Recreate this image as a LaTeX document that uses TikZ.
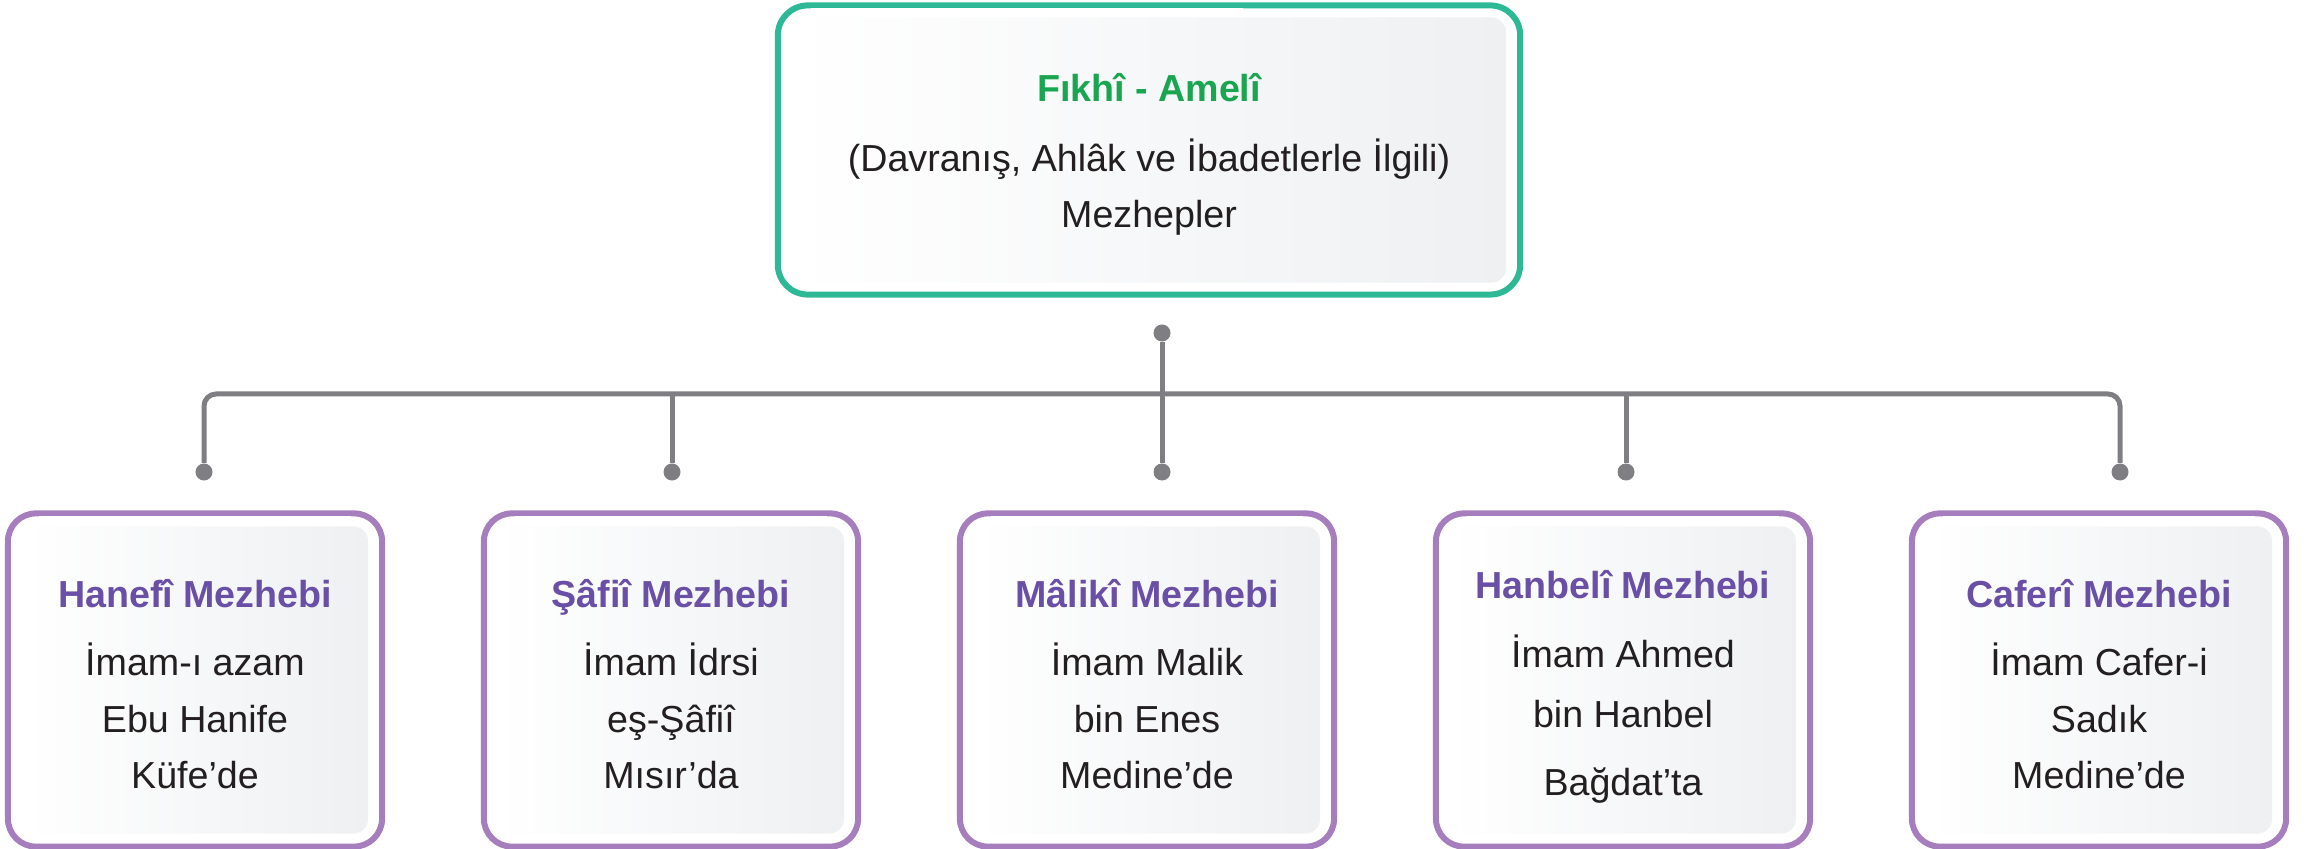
\documentclass[tikz,border=0pt]{standalone}
\usepackage{fontspec}
\setmainfont{Liberation Sans}
\usetikzlibrary{positioning}

\definecolor{frameGreen}{HTML}{2EB996}
\definecolor{titleGreen}{HTML}{1AA651}
\definecolor{framePurple}{HTML}{A67DBD}
\definecolor{titlePurple}{HTML}{6A4FA6}
\definecolor{linkGray}{HTML}{7F7F83}
\definecolor{panelGray}{HTML}{EEF0F2}
\definecolor{ink}{HTML}{231F20}

\tikzset{
  topbox/.style={draw=frameGreen, line width=0.06cm, rounded corners=0.3cm, fill=white,
    minimum width=7.42cm, minimum height=2.89cm, inner sep=0pt},
  mezbox/.style={draw=framePurple, line width=0.06cm, rounded corners=0.28cm, fill=white,
    minimum width=3.74cm, minimum height=3.33cm, inner sep=0pt},
  panel/.style={rounded corners=0.15cm, left color=white, right color=panelGray, inner sep=0pt},
  shine/.style={left color=white, middle color=black!15, right color=white},
  dot/.style={circle, fill=linkGray, inner sep=0pt, minimum size=0.17cm},
  link/.style={draw=linkGray, line width=0.05cm, rounded corners=0.12cm},
  head/.style={anchor=base, inner sep=0pt, font=\bfseries\fontsize{10.7}{13}\selectfont},
  body/.style={anchor=base, inner sep=0pt, text=ink, font=\fontsize{10.7}{13}\selectfont},
}

\begin{document}
\begin{tikzpicture}[x=0.01cm, y=-0.01cm]
			%%%%% START %%%%%
			\useasboundingbox (0,0) rectangle (2318,849);
			
			% top box
			\node[topbox] (amel) at (1149,150) {};
			\node[panel, minimum width=7.14cm, minimum height=2.65cm] (amelpanel) at (amel) {};
			\shade[shine] ([shift={(36,6)}]amel.north west) rectangle ([shift={(-280,13)}]amel.north east);
			
			\node[head, text=titleGreen] (fikhi) at (1149,102) {Fıkhî - Amelî};
			\node[body] (davranis) at (1149,172) {(Davranış, Ahlâk ve İbadetlerle İlgili)};
			\node[body] (mezhepler) at (1149,228) {Mezhepler};
			
			% mezhep boxes
			\foreach \x/\n in {195/hanefi, 671/safii, 1147/maliki, 1623/hanbeli, 2099/caferi}{
				\node[mezbox] (\n) at (\x,680) {};
				\node[panel, minimum width=3.46cm, minimum height=3.07cm] (\n panel) at (\n) {};
				\shade[shine] ([shift={(34,6)}]\n.north west) rectangle ([shift={(-34,13)}]\n.north east);
			}
			
			\node[head, text=titlePurple] (hanefitext) at (195,607) {Hanefî Mezhebi};
			\node[body] at (195,675) {İmam-ı azam};
			\node[body] at (195,732) {Ebu Hanife};
			\node[body] at (195,788) {Küfe’de};
			
			\node[head, text=titlePurple] (safiitext) at (671,607) {Şâfiî Mezhebi};
			\node[body] at (671,675) {İmam İdrsi};
			\node[body] at (671,732) {eş-Şâfiî};
			\node[body] at (671,788) {Mısır’da};
			
			\node[head, text=titlePurple] (malikitext) at (1147,607) {Mâlikî Mezhebi};
			\node[body] at (1147,675) {İmam Malik};
			\node[body] at (1147,732) {bin Enes};
			\node[body] at (1147,788) {Medine’de};
			
			\node[head, text=titlePurple] (hanbelitext) at (1623,598) {Hanbelî Mezhebi};
			\node[body] at (1623,667) {İmam Ahmed};
			\node[body] at (1623,727) {bin Hanbel};
			\node[body] at (1623,795) {Bağdat’ta};
			
			\node[head, text=titlePurple] (caferitext) at (2099,607) {Caferî Mezhebi};
			\node[body] at (2099,675) {İmam Cafer-i};
			\node[body] at (2099,732) {Sadık};
			\node[body] at (2099,788) {Medine’de};
			
			% connectors
			\node[dot] (hub) at (1162,333) {};
			\node[dot] (d1) at (204,472) {};
			\node[dot] (d2) at (672,472) {};
			\node[dot] (d3) at (1162,472) {};
			\node[dot] (d4) at (1626,472) {};
			\node[dot] (d5) at (2120,472) {};
			\coordinate (bar) at (1162,394);
			
			\draw[link] (d1) |- (bar) -| (d5);
			\draw[link] (hub) -- (d3);
			\draw[link] (d2) -- (d2 |- bar);
			\draw[link] (d4) -- (d4 |- bar);
			%%%%% END %%%%%
\end{tikzpicture}
\end{document}
